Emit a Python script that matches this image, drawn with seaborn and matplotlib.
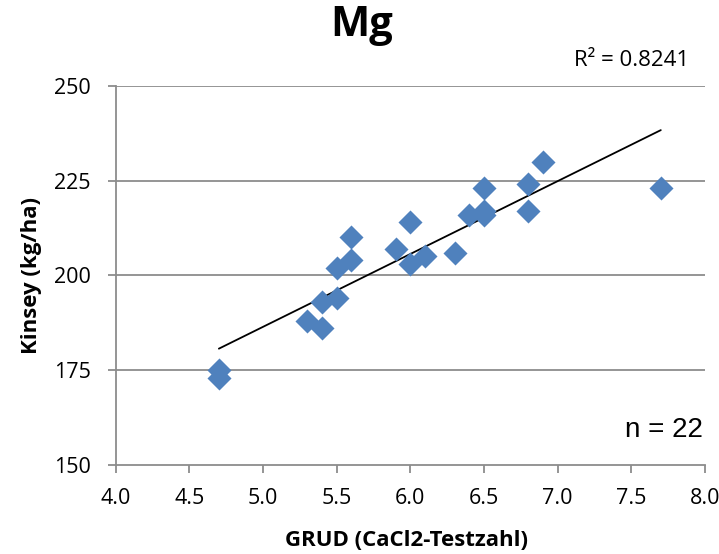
import seaborn as sns
import matplotlib.pyplot as plt
import numpy as np
import pandas as pd

# Werte
grud = [4.7, 4.7, 5.3, 5.4, 5.4, 5.5, 5.5, 5.6, 5.6, 5.9, 6.0,
        6.0, 6.1, 6.3, 6.4, 6.5, 6.5, 6.5, 6.8, 6.8, 6.9, 7.7]
kinsey = [175, 173, 188, 186, 193, 194, 202, 204, 210, 207, 203,
          214, 205, 206, 216, 217, 216, 223, 224, 217, 230, 223]
x_ticks = [4.0, 4.5, 5.0, 5.5, 6.0, 6.5, 7.0, 7.5, 8.0]
y_ticks = [150, 175, 200, 225, 250]

df = pd.DataFrame({'GRUD': grud, 'Kinsey': kinsey})

sns.set_style("white")
plt.rcParams['font.family'] = ['Open Sans', 'DejaVu Sans']
plt.rcParams['text.color'] = 'black'
plt.rcParams['axes.labelcolor'] = 'black'

fig = plt.figure(figsize=(7.19, 5.54), dpi=100)
ax = fig.add_axes([0.161, 0.161, 0.8195, 0.684])

# Gitterlinien
for y in y_ticks[1:]:
    ax.axhline(y, color='#8c8c8c', lw=1.3, zorder=0)

# Trendlinie (lineare Regression)
slope, inter = np.polyfit(df['GRUD'], df['Kinsey'], 1)
xs = np.array([df['GRUD'].min(), df['GRUD'].max()])
ax.plot(xs, slope * xs + inter, color='black', lw=1.3, zorder=2)

sns.scatterplot(data=df, x='GRUD', y='Kinsey', ax=ax, marker='D', s=150,
                color='#4f81bd', edgecolor='#4f81bd', linewidth=0, zorder=3)

ax.set_xlim(4.0, 8.0)
ax.set_ylim(150, 250)
ax.set_xticks(x_ticks)
ax.set_xticklabels([f'{v:.1f}' for v in x_ticks])
ax.set_yticks(y_ticks)
ax.tick_params(axis='both', labelsize=15.5, length=6, width=1.3, color='#8c8c8c',
               labelcolor='black', direction='out', bottom=True, left=True)
ax.tick_params(axis='x', pad=11)
ax.tick_params(axis='y', pad=12)

for side in ['top', 'right']:
    ax.spines[side].set_visible(False)
for side in ['left', 'bottom']:
    ax.spines[side].set_color('#8c8c8c')
    ax.spines[side].set_linewidth(1.3)

ax.set_xlabel('GRUD (CaCl2-Testzahl)', fontsize=16, fontweight='bold')
ax.set_ylabel('Kinsey (kg/ha)', fontsize=16, fontweight='bold')
ax.xaxis.set_label_coords(0.494, -0.214)
ax.xaxis.label.set_va('baseline')
ax.yaxis.set_label_coords(-0.134, 0.5)
ax.yaxis.label.set_va('baseline')

fig.text(0.503, 0.935, 'Mg', fontsize=30, fontweight='bold', ha='center', va='baseline')
fig.text(0.879, 0.881, 'R² = 0.8241', fontsize=16, ha='center', va='baseline')
ax.text(0.9966, 0.074, 'n = 22', fontsize=20, ha='right', va='baseline',
        transform=ax.transAxes, family=['Liberation Sans', 'DejaVu Sans'])

fig.savefig('out.png', dpi=100)
